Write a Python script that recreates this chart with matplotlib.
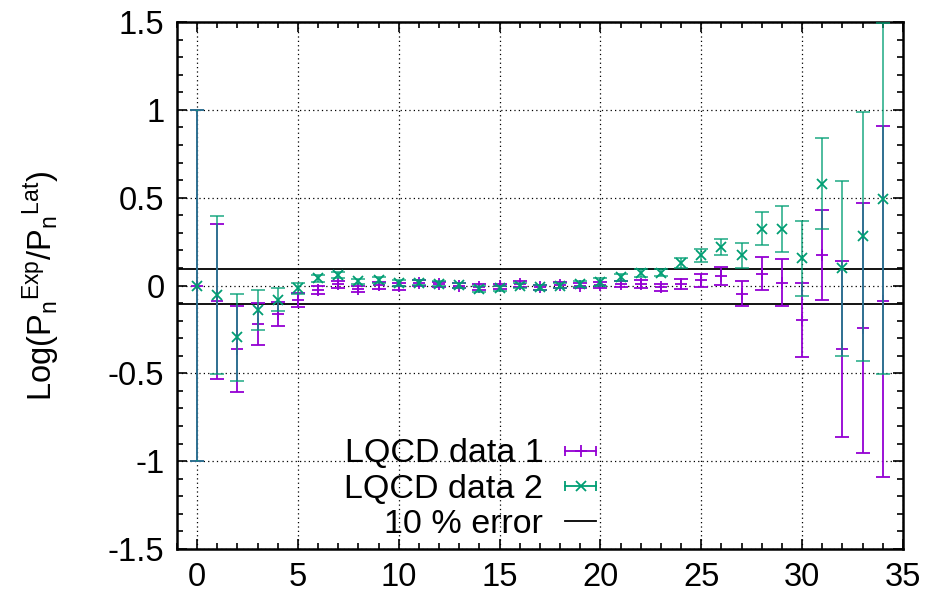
import numpy as np
import matplotlib
matplotlib.use("Agg")
import matplotlib.pyplot as plt
from matplotlib.ticker import MultipleLocator, FuncFormatter
from matplotlib.lines import Line2D
from matplotlib.legend_handler import HandlerBase
from matplotlib.container import ErrorbarContainer

plt.rcParams['font.family'] = ['Liberation Sans', 'DejaVu Sans']
plt.rcParams['axes.unicode_minus'] = False
plt.rcParams['mathtext.default'] = 'regular'

n = np.arange(35)

data1 = [0.0, -0.09, -0.36, -0.217, -0.163, -0.085, -0.025, 0.008, -0.02, 0.002,
         -0.005, 0.014, 0.008, 0.0, -0.009, -0.005, 0.008, -0.011, 0.002, 0.0,
         0.004, 0.008, 0.008, -0.009, 0.01, 0.029, 0.055, -0.047, 0.067, 0.017,
         -0.196, 0.175, -0.363, -0.243, -0.091]
err1 = [1.0, 0.44, 0.244, 0.12, 0.067, 0.04, 0.023, 0.02, 0.018, 0.02,
        0.018, 0.015, 0.014, 0.014, 0.016, 0.016, 0.016, 0.016, 0.016, 0.017,
        0.018, 0.019, 0.021, 0.02, 0.028, 0.038, 0.05, 0.072, 0.093, 0.134,
        0.212, 0.257, 0.50, 0.71, 1.0]

data2 = [0.0, -0.055, -0.296, -0.139, -0.082, -0.015, 0.04, 0.061, 0.023, 0.032,
         0.014, 0.017, 0.01, 0.002, -0.021, -0.017, 0.0, -0.011, 0.0, 0.01,
         0.019, 0.046, 0.071, 0.074, 0.128, 0.171, 0.219, 0.171, 0.323, 0.321,
         0.156, 0.58, 0.099, 0.28, 0.494]
err2 = [1.0, 0.45, 0.245, 0.114, 0.066, 0.032, 0.022, 0.017, 0.016, 0.018,
        0.016, 0.015, 0.014, 0.014, 0.016, 0.016, 0.016, 0.016, 0.016, 0.018,
        0.021, 0.02, 0.021, 0.02, 0.026, 0.038, 0.045, 0.073, 0.093, 0.133,
        0.214, 0.258, 0.498, 0.707, 1.0]

ten_pct = [0.0953, -0.1054]

labels = ["LQCD data 1", "LQCD data 2", "10 % error"]
purple = "#9400D3"
green = "#009E73"

FS = 23.5

W, H = 929, 599
fig = plt.figure(figsize=(W / 100, H / 100), dpi=100)
ax = fig.add_axes([177 / W, 1 - 549 / H, (903 - 177) / W, (549 - 22) / H])

e1 = ax.errorbar(n, data1, yerr=err1, fmt='+', color=purple, ms=8, mew=1.3,
                 elinewidth=1.3, capsize=5, capthick=1.3, label=labels[0], zorder=3)
e2 = ax.errorbar(n, data2, yerr=err2, fmt='x', color=green, ms=7, mew=1.3,
                 elinewidth=1.3, capsize=5, capthick=1.3, label=labels[1], zorder=4)
for part in (e2[1], e2[2]):
    for a in part:
        a.set_alpha(0.75)

hl = None
for v in ten_pct:
    hl = ax.axhline(v, color='black', lw=1.3, zorder=2)

ax.set_xlim(-1, 35)
ax.set_ylim(-1.5, 1.5)
ax.xaxis.set_major_locator(MultipleLocator(5))
ax.xaxis.set_minor_locator(MultipleLocator(1))
ax.yaxis.set_major_locator(MultipleLocator(0.5))
ax.yaxis.set_minor_locator(MultipleLocator(0.1))
fmt = FuncFormatter(lambda v, p: "%g" % v)
ax.xaxis.set_major_formatter(fmt)
ax.yaxis.set_major_formatter(fmt)

ax.tick_params(which='both', direction='in', top=True, right=True, width=1.2)
ax.tick_params(which='major', length=7, labelsize=FS, pad=9)
ax.tick_params(which='minor', length=4)
for s in ax.spines.values():
    s.set_linewidth(1.8)
ax.grid(True, which='major', color='black', linestyle=(0, (1, 2.5)), lw=0.9)
ax.set_axisbelow(True)

ax.set_ylabel(r"Log(P$_n{}^{Exp}$/P$_n{}^{Lat}$)", fontsize=FS, labelpad=33)


class HErr(HandlerBase):
    def create_artists(self, legend, orig_handle, xdescent, ydescent, width,
                       height, fontsize, trans):
        line = orig_handle[0]
        c = line.get_color()
        y = height / 2 - ydescent
        x0, x1 = -xdescent, width - xdescent
        bar = Line2D([x0, x1], [y, y], color=c, lw=1.3)
        caps = Line2D([x0, x1], [y, y], ls='none', marker='|', ms=7, mew=1.3, color=c)
        mk = Line2D([(x0 + x1) / 2], [y], ls='none', marker=line.get_marker(),
                    ms=line.get_markersize(), mew=1.3, color=c)
        for a in (bar, caps, mk):
            a.set_transform(trans)
        return [bar, caps, mk]


leg = ax.legend([e1, e2, hl], labels, handler_map={ErrorbarContainer: HErr()},
                loc='center right', bbox_to_anchor=((596 - 177) / (903 - 177), (549 - 489) / 527),
                markerfirst=False, frameon=False, fontsize=24.5, handlelength=0.9,
                handletextpad=0.65, labelspacing=0.12, borderpad=0, borderaxespad=0)

fig.savefig("out.png", dpi=100)
